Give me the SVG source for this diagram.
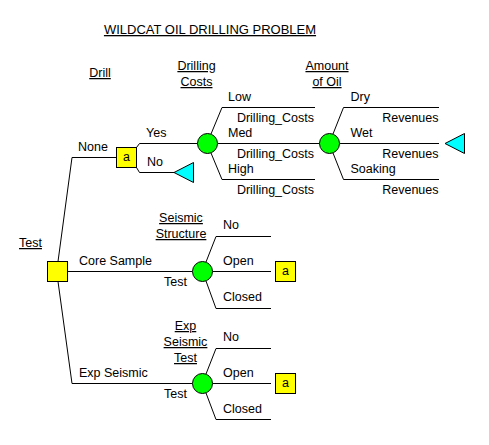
<svg xmlns="http://www.w3.org/2000/svg" width="489" height="445" viewBox="0 0 489 445">
<style>
text{font-family:"Liberation Sans",Arial,sans-serif;font-size:12.5px;fill:#000}
.u{text-decoration:underline}
.m{text-anchor:middle}
.r{text-anchor:end}
.ln{fill:none;stroke:#000;stroke-width:1}
.dec{fill:#ffff00;stroke:#000;stroke-width:1}
.ch{fill:#00ff00;stroke:#000;stroke-width:1}
.term{fill:#00ffff;stroke:#000;stroke-width:1}
</style>
<rect width="489" height="445" fill="#fff"/>
<g id="titles">
<text x="210" y="34" class="u m" style="font-size:13px">WILDCAT OIL DRILLING PROBLEM</text>
<text x="100" y="77" class="u m">Drill</text>
<text x="196.5" y="70" class="u m">Drilling</text>
<text x="196.5" y="86" class="u m">Costs</text>
<text x="327" y="70" class="u m">Amount</text>
<text x="327" y="86" class="u m">of Oil</text>
<text x="30.5" y="247" class="u m">Test</text>
<text x="181" y="222" class="u m">Seismic</text>
<text x="181" y="238" class="u m">Structure</text>
<text x="185.5" y="330" class="u m">Exp</text>
<text x="185.5" y="346" class="u m">Seismic</text>
<text x="185.5" y="362" class="u m">Test</text>
</g>
<g id="connectors">
<path class="ln" d="M58,261.5 L72,157.5 L116.5,157.5"/>
<path class="ln" d="M67.5,271.5 L192.5,271.5"/>
<path class="ln" d="M58,281.5 L72,383.5 L192.5,383.5"/>
<path class="ln" d="M136.5,147.5 L139.5,143.5 L197.5,143.5"/>
<path class="ln" d="M136.5,167.5 L139.5,172.5 L174,172.5"/>
<path class="ln" d="M211,134 L222,107.5 L315,107.5"/>
<path class="ln" d="M217.5,143.5 L319.5,143.5"/>
<path class="ln" d="M211,153 L222,179.5 L315,179.5"/>
<path class="ln" d="M333,134 L343.5,107.5 L439,107.5"/>
<path class="ln" d="M339.5,143.5 L439,143.5"/>
<path class="ln" d="M333,153 L343.5,179.5 L439,179.5"/>
<path class="ln" d="M206,262 L216,236.5 L271,236.5"/>
<path class="ln" d="M212.5,271.5 L271,271.5"/>
<path class="ln" d="M206,281 L216,308.5 L271,308.5"/>
<path class="ln" d="M206,374 L216,348.5 L271,348.5"/>
<path class="ln" d="M212.5,383.5 L271,383.5"/>
<path class="ln" d="M206,393 L216,419.5 L271,419.5"/>
</g>
<g id="branch-labels">
<text x="78" y="151">None</text>
<text x="79" y="265">Core Sample</text>
<text x="79" y="377">Exp Seismic</text>
<text x="146" y="137">Yes</text>
<text x="147" y="166">No</text>
<text x="228" y="101">Low</text>
<text x="314" y="122" class="r">Drilling_Costs</text>
<text x="228" y="137">Med</text>
<text x="314" y="158" class="r">Drilling_Costs</text>
<text x="228" y="173">High</text>
<text x="314" y="193.5" class="r">Drilling_Costs</text>
<text x="350.5" y="101">Dry</text>
<text x="438.5" y="122" class="r">Revenues</text>
<text x="350.5" y="137">Wet</text>
<text x="438.5" y="158" class="r">Revenues</text>
<text x="350.5" y="173">Soaking</text>
<text x="438.5" y="193.5" class="r">Revenues</text>
<text x="187" y="286" class="r">Test</text>
<text x="223" y="229">No</text>
<text x="223" y="265">Open</text>
<text x="223" y="301">Closed</text>
<text x="187" y="398" class="r">Test</text>
<text x="223" y="341">No</text>
<text x="223" y="377">Open</text>
<text x="223" y="413">Closed</text>
</g>
<g id="test-decision"><rect class="dec" x="47.5" y="261.5" width="20" height="20"/></g>
<g id="drill-decision"><rect class="dec" x="116.5" y="147.5" width="20" height="20"/><text x="126.5" y="161" class="m">a</text></g>
<g id="no-drill-terminal"><polygon class="term" points="174,172.5 193.5,162.5 193.5,182.5"/></g>
<g id="drilling-costs-chance"><circle class="ch" cx="207.5" cy="143.5" r="10"/></g>
<g id="amount-oil-chance"><circle class="ch" cx="329.5" cy="143.5" r="10"/></g>
<g id="revenues-terminal"><polygon class="term" points="445,143.5 464.5,133.5 464.5,153.5"/></g>
<g id="seismic-structure-chance"><circle class="ch" cx="202.5" cy="271.5" r="10"/></g>
<g id="core-open-ref"><rect class="dec" x="275.5" y="261.5" width="20" height="20"/><text x="285.5" y="275" class="m">a</text></g>
<g id="exp-seismic-chance"><circle class="ch" cx="202.5" cy="383.5" r="10"/></g>
<g id="exp-open-ref"><rect class="dec" x="275.5" y="373.5" width="20" height="20"/><text x="285.5" y="387" class="m">a</text></g>
</svg>
